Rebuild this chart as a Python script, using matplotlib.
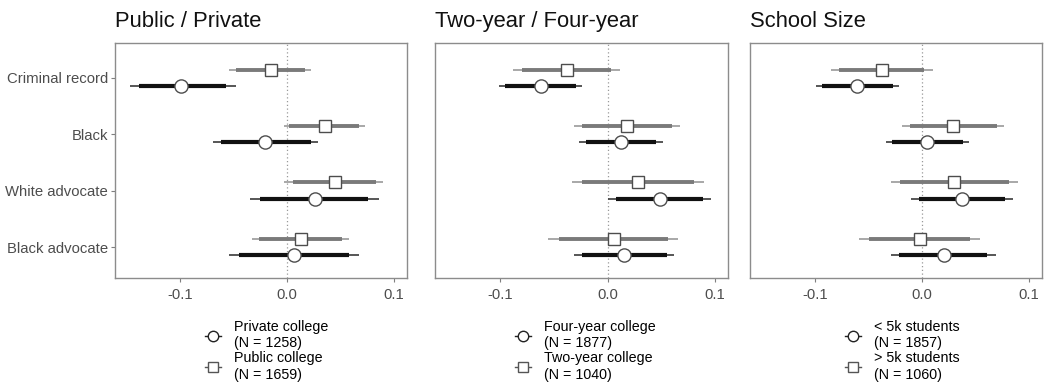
# Importamos las bibliotecas necesarias
import matplotlib
matplotlib.use("Agg")
import matplotlib.pyplot as plt
from matplotlib.lines import Line2D

plt.rcParams['font.family'] = ['Liberation Sans', 'DejaVu Sans']

# Categorías (de arriba hacia abajo)
categorias = ["Criminal record", "Black", "White advocate", "Black advocate"]
titulos = ["Public / Private", "Two-year / Four-year", "School Size"]
ticks_x = [-0.1, 0.0, 0.1]
etiquetas_x = ["-0.1", "0.0", "0.1"]

# Panel 1: Public / Private
p1_circ_est = [-0.099, -0.0206, 0.0256, 0.006]
p1_circ_lo95 = [-0.147, -0.0697, -0.035, -0.054]
p1_circ_hi95 = [-0.048, 0.029, 0.086, 0.067]
p1_circ_lo90 = [-0.139, -0.062, -0.025, -0.045]
p1_circ_hi90 = [-0.057, 0.022, 0.076, 0.0575]
p1_cuad_est = [-0.0153, 0.035, 0.0444, 0.0128]
p1_cuad_lo95 = [-0.054, -0.003, -0.003, -0.033]
p1_cuad_hi95 = [0.0225, 0.0725, 0.090, 0.058]
p1_cuad_lo90 = [-0.048, 0.0016, 0.005, -0.026]
p1_cuad_hi90 = [0.017, 0.067, 0.083, 0.051]
p1_leyenda = ["Private college\n(N = 1258)", "Public college\n(N = 1659)"]

# Panel 2: Two-year / Four-year
p2_circ_est = [-0.0624, 0.0123, 0.0485, 0.0154]
p2_circ_lo95 = [-0.101, -0.027, 0.0006, -0.0315]
p2_circ_hi95 = [-0.0236, 0.051, 0.096, 0.062]
p2_circ_lo90 = [-0.0954, -0.020, 0.008, -0.0236]
p2_circ_hi90 = [-0.030, 0.0447, 0.089, 0.0548]
p2_cuad_est = [-0.0384, 0.018, 0.0277, 0.0054]
p2_cuad_lo95 = [-0.088, -0.0315, -0.033, -0.0554]
p2_cuad_hi95 = [0.011, 0.067, 0.0894, 0.0655]
p2_cuad_lo90 = [-0.080, -0.0236, -0.0236, -0.0457]
p2_cuad_hi90 = [0.003, 0.0595, 0.080, 0.0557]
p2_leyenda = ["Four-year college\n(N = 1877)", "Two-year college\n(N = 1040)"]

# Panel 3: School Size
p3_circ_est = [-0.0608, 0.0047, 0.0373, 0.020]
p3_circ_lo95 = [-0.0997, -0.034, -0.0107, -0.029]
p3_circ_hi95 = [-0.0213, 0.044, 0.085, 0.0687]
p3_circ_lo90 = [-0.0937, -0.028, -0.0028, -0.0213]
p3_circ_hi90 = [-0.0276, 0.038, 0.0774, 0.061]
p3_cuad_est = [-0.0373, 0.0285, 0.030, -0.0025]
p3_cuad_lo95 = [-0.085, -0.019, -0.0295, -0.059]
p3_cuad_hi95 = [0.0097, 0.0765, 0.090, 0.0545]
p3_cuad_lo90 = [-0.0777, -0.0113, -0.0207, -0.050]
p3_cuad_hi90 = [0.002, 0.0696, 0.081, 0.045]
p3_leyenda = ["< 5k students\n(N = 1857)", "> 5k students\n(N = 1060)"]

paneles = [
    (p1_circ_est, p1_circ_lo95, p1_circ_hi95, p1_circ_lo90, p1_circ_hi90,
     p1_cuad_est, p1_cuad_lo95, p1_cuad_hi95, p1_cuad_lo90, p1_cuad_hi90, p1_leyenda),
    (p2_circ_est, p2_circ_lo95, p2_circ_hi95, p2_circ_lo90, p2_circ_hi90,
     p2_cuad_est, p2_cuad_lo95, p2_cuad_hi95, p2_cuad_lo90, p2_cuad_hi90, p2_leyenda),
    (p3_circ_est, p3_circ_lo95, p3_circ_hi95, p3_circ_lo90, p3_circ_hi90,
     p3_cuad_est, p3_cuad_lo95, p3_cuad_hi95, p3_cuad_lo90, p3_cuad_hi90, p3_leyenda),
]

# Posiciones de los ejes en píxeles (izquierda, arriba, ancho, alto)
W, H = 1046, 382
pos_ejes = [(115, 43, 292, 235), (435, 43, 293, 235), (750, 43, 292, 235)]
pos_leyenda = [205, 515, 845]
desfase = 0.145  # separación vertical entre las dos series

fig = plt.figure(figsize=(W / 100, H / 100), dpi=100)

y_cat = [4, 3, 2, 1]

for k, datos in enumerate(paneles):
    (c_est, c_lo95, c_hi95, c_lo90, c_hi90,
     s_est, s_lo95, s_hi95, s_lo90, s_hi90, leyenda) = datos
    x0, y0, w, h = pos_ejes[k]
    ax = fig.add_axes([x0 / W, (H - y0 - h) / H, w / W, h / H])

    # Línea punteada vertical en cero
    ax.axvline(0, color="#999999", linestyle=(0, (1, 2)), linewidth=0.9, zorder=1)

    for i, y in enumerate(y_cat):
        # Serie del cuadrado (gris), arriba
        ys = y + desfase
        ax.plot([s_lo95[i], s_hi95[i]], [ys, ys], color="#9a9a9a", linewidth=1.2,
                solid_capstyle="butt", zorder=2)
        ax.plot([s_lo90[i], s_hi90[i]], [ys, ys], color="#7a7a7a", linewidth=2.8,
                solid_capstyle="butt", zorder=3)
        ax.plot(s_est[i], ys, marker="s", markersize=8.5, markerfacecolor="white",
                markeredgecolor="#4d4d4d", markeredgewidth=1.0, zorder=4)
        # Serie del círculo (negro), abajo
        yc = y - desfase
        ax.plot([c_lo95[i], c_hi95[i]], [yc, yc], color="#3a3a3a", linewidth=1.2,
                solid_capstyle="butt", zorder=2)
        ax.plot([c_lo90[i], c_hi90[i]], [yc, yc], color="#111111", linewidth=3.0,
                solid_capstyle="butt", zorder=3)
        ax.plot(c_est[i], yc, marker="o", markersize=9.5, markerfacecolor="white",
                markeredgecolor="#4d4d4d", markeredgewidth=1.0, zorder=4)

    ax.set_xlim(-0.161, 0.112)
    ax.set_ylim(0.45, 4.62)
    ax.set_xticks(ticks_x)
    ax.set_xticklabels(etiquetas_x)
    ax.set_yticks(y_cat)
    if k == 0:
        ax.set_yticklabels(categorias)
    else:
        ax.tick_params(axis="y", left=False, labelleft=False)
    ax.tick_params(axis="both", colors="#7f7f7f", labelcolor="#4d4d4d",
                   labelsize=10.7, length=3, width=0.8, pad=2)
    ax.tick_params(axis="x", pad=4)
    for lado in ax.spines.values():
        lado.set_color("#8c8c8c")
        lado.set_linewidth(1.0)

    # Título alineado a la izquierda
    fig.text(x0 / W, (H - 27) / H, titulos[k], fontsize=15.8, ha="left",
             va="baseline", color="#111111")

    # Leyenda debajo del panel
    manejadores = [
        Line2D([0], [0], color="#222222", linewidth=1.0, marker="o", markersize=7.5,
               markerfacecolor="white", markeredgecolor="#222222"),
        Line2D([0], [0], color="#555555", linewidth=1.0, marker="s", markersize=6.5,
               markerfacecolor="white", markeredgecolor="#555555"),
    ]
    fig.legend(manejadores, leyenda, loc="upper left",
               bbox_to_anchor=(pos_leyenda[k] / W, (H - 320) / H),
               frameon=False, fontsize=10.3, handlelength=1.1, handletextpad=0.9,
               labelspacing=0.08, borderpad=0, borderaxespad=0)

fig.savefig("out.png", dpi=100)
